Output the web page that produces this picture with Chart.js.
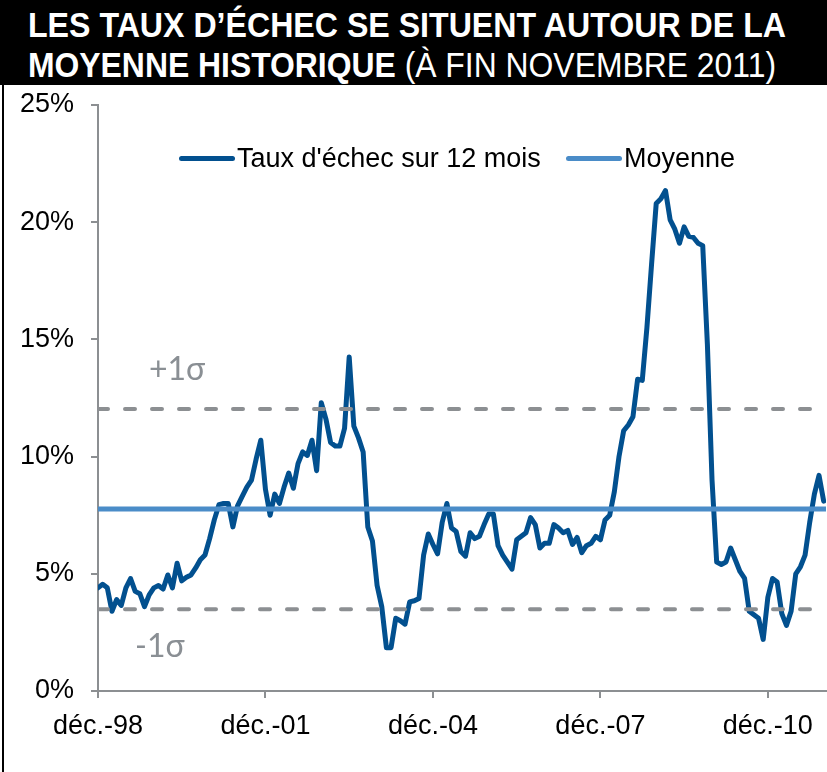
<!DOCTYPE html>
<html>
<head>
<meta charset="utf-8">
<script src="https://cdn.jsdelivr.net/npm/chart.js@4"></script>
<style>
  html, body { margin: 0; padding: 0; background: #fff; }
  #page { position: relative; width: 827px; height: 772px; overflow: hidden; font-family: "Liberation Sans", Arial, sans-serif; }
  #titleBar { position: absolute; left: 0; top: 0; width: 827px; height: 85px; background: #000; }
  .tline { position: absolute; left: 28px; white-space: nowrap; color: #fff; font-size: 35px; line-height: 40px; transform-origin: left top; }
  .tline b { font-weight: bold; }
  #t1 { top: 5px; font-weight: bold; }
  #t2 { top: 45px; }
  #frame { position: absolute; left: 2px; top: 85px; width: 2px; height: 687px; background: #000; }
  #chartBox { position: absolute; left: 0; top: 85px; width: 827px; height: 687px; }
  .leg { position: absolute; top: 143px; height: 30px; display: flex; align-items: center; font-size: 27px; color: #000; white-space: nowrap; }
  .leg span.sw { display: inline-block; width: 56px; height: 5px; border-radius: 3px; margin-right: 2px; }
</style>
</head>
<body>
<div id="page">
  <div id="titleBar">
    <span class="tline" id="t1">LES TAUX D’ÉCHEC SE SITUENT AUTOUR DE LA</span>
    <span class="tline" id="t2"><b>MOYENNE HISTORIQUE</b> (À FIN NOVEMBRE 2011)</span>
  </div>
  <div id="frame"></div>
  <div id="chartBox"><canvas id="chart" width="827" height="687"></canvas></div>
  <div class="leg" style="left:179px"><span class="sw" style="background:#02508f"></span>Taux d'échec sur 12 mois</div>
  <div class="leg" style="left:566px"><span class="sw" style="background:#4a8cc8"></span>Moyenne</div>
</div>
<script>
// taux d'échec sur 12 mois, mensuel, déc. 1998 -> fin 2011 (en %)
const tauxEchec = [
  4.4, 4.55, 4.4, 3.4, 3.9, 3.65, 4.4, 4.8, 4.25, 4.15, 3.6, 4.1,
  4.4, 4.5, 4.35, 4.95, 4.4, 5.45, 4.7, 4.85, 4.95, 5.25, 5.6, 5.8,
  6.5, 7.3, 7.95, 8.0, 8.0, 7.0, 7.9, 8.3, 8.7, 9.0, 9.9, 10.7,
  8.6, 7.5, 8.4, 8.0, 8.7, 9.3, 8.65, 9.7, 10.2, 10.05, 10.7, 9.4,
  12.3, 11.6, 10.6, 10.45, 10.45, 11.2, 14.25, 11.3, 10.8, 10.2, 7.0, 6.4,
  4.5, 3.6, 1.85, 1.85, 3.1, 3.0, 2.85, 3.8, 3.85, 3.95, 5.8, 6.7,
  6.25, 5.85, 7.2, 8.0, 6.95, 6.8, 5.95, 5.75, 6.75, 6.5, 6.6, 7.1,
  7.55, 7.55, 6.2, 5.8, 5.5, 5.2, 6.45, 6.6, 6.75, 7.4, 7.1, 6.1,
  6.3, 6.3, 7.1, 6.95, 6.75, 6.85, 6.25, 6.55, 5.9, 6.2, 6.3, 6.6,
  6.45, 7.3, 7.5, 8.5, 10.0, 11.1, 11.35, 11.7, 13.3, 13.25, 15.5, 18.2,
  20.8, 21.0, 21.35, 20.1, 19.7, 19.1, 19.8, 19.4, 19.35, 19.1, 19.0, 14.8,
  9.0, 5.5, 5.4, 5.5, 6.1, 5.6, 5.1, 4.8, 3.4, 3.25, 3.1, 2.2,
  4.0, 4.8, 4.65, 3.3, 2.8, 3.4, 5.0, 5.3, 5.8, 7.2, 8.4, 9.2,
  8.1
];
const moyenne = 7.76;
const plusSigma = 12.03;
const moinsSigma = 3.49;

const xTickPos = [0, 36, 72, 108, 144];
const xTickLabels = ['déc.-98', 'déc.-01', 'déc.-04', 'déc.-07', 'déc.-10'];
const xMax = 156.5;

const sigmaLabels = ['+1σ', '-1σ'];
const sigmaLabelPos = [{ x: 17, y: 13.7 }, { x: 13.3, y: 1.9 }];

// fit the title lines to the width they take in the original
function fitLine(id, w) {
  const el = document.getElementById(id);
  const r = el.getBoundingClientRect().width;
  el.style.transform = 'scaleX(' + (w / r) + ')';
}
fitLine('t1', 758);
fitLine('t2', 748);

const pts = tauxEchec.map((v, i) => ({ x: i, y: v }));
const flat = v => [{ x: 0, y: v }, { x: xMax, y: v }];

const gray = '#8c8f92';

const sigmaText = {
  id: 'sigmaText',
  afterDatasetsDraw(chart) {
    const { ctx, scales } = chart;
    ctx.save();
    ctx.font = '32px Lato, "Open Sans", sans-serif';
    ctx.fillStyle = '#8a8f94';
    ctx.textAlign = 'center';
    ctx.textBaseline = 'middle';
    sigmaLabels.forEach((t, i) => {
      ctx.fillText(t, scales.x.getPixelForValue(sigmaLabelPos[i].x), scales.y.getPixelForValue(sigmaLabelPos[i].y));
    });
    ctx.restore();
  }
};

new Chart(document.getElementById('chart'), {
  type: 'line',
  data: {
    datasets: [
      {
        label: "Taux d'échec sur 12 mois",
        data: pts,
        borderColor: '#02508f',
        borderWidth: 5,
        borderJoinStyle: 'round',
        borderCapStyle: 'round',
        pointRadius: 0,
        tension: 0,
        order: 3
      },
      {
        label: 'Moyenne',
        data: flat(moyenne),
        borderColor: '#4a8cc8',
        borderWidth: 5,
        pointRadius: 0,
        order: 1
      },
      {
        label: '+1σ',
        data: flat(plusSigma),
        borderColor: gray,
        borderWidth: 4,
        borderDash: [10, 17],
        borderCapStyle: 'round',
        pointRadius: 0,
        order: 2
      },
      {
        label: '-1σ',
        data: flat(moinsSigma),
        borderColor: gray,
        borderWidth: 4,
        borderDash: [10, 17],
        borderCapStyle: 'round',
        pointRadius: 0,
        order: 2
      }
    ]
  },
  options: {
    responsive: false,
    animation: false,
    layout: { padding: { top: 20, right: 1, bottom: 0, left: 0 } },
    plugins: { legend: { display: false }, tooltip: { enabled: false } },
    scales: {
      x: {
        type: 'linear',
        min: 0,
        max: xMax,
        afterBuildTicks: s => { s.ticks = xTickPos.map(v => ({ value: v })); },
        afterFit: s => { s.height = 81; s.paddingLeft = 0; s.paddingRight = 0; },
        ticks: {
          color: '#000',
          font: { family: '"Liberation Sans", Arial, sans-serif', size: 27 },
          padding: 12,
          maxRotation: 0,
          callback: v => xTickLabels[xTickPos.indexOf(v)]
        },
        grid: { drawOnChartArea: false, drawTicks: true, tickLength: 7, color: gray, lineWidth: 2 },
        border: { display: true, color: gray, width: 2 }
      },
      y: {
        min: 0,
        max: 25,
        afterFit: s => { s.width = 98; s.paddingTop = 0; s.paddingBottom = 0; },
        ticks: {
          stepSize: 5,
          color: '#000',
          font: { family: '"Liberation Sans", Arial, sans-serif', size: 27 },
          padding: 17,
          callback: v => v + '%'
        },
        grid: { drawOnChartArea: false, drawTicks: true, tickLength: 7, color: gray, lineWidth: 2 },
        border: { display: true, color: gray, width: 2 }
      }
    }
  },
  plugins: [sigmaText]
});
</script>
</body>
</html>
